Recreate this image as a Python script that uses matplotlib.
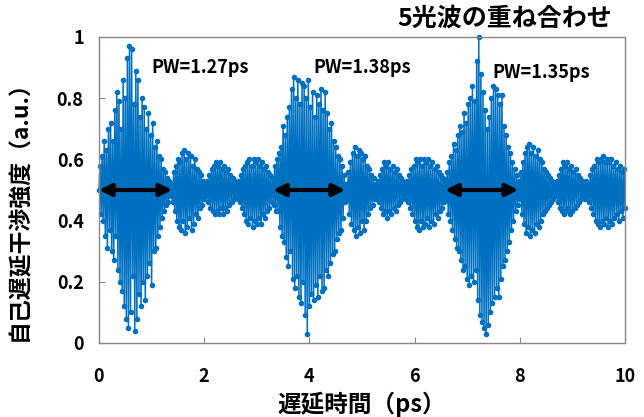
import numpy as np
import matplotlib
matplotlib.use('Agg')
import matplotlib.pyplot as plt

plt.rcParams['font.family'] = ['Noto Sans CJK JP', 'DejaVu Sans']
plt.rcParams['font.weight'] = 'bold'

# self-delay interference signal, sampled every 0.02 ps from 0 to 10 ps
burst1 = [0.50, 0.58, 0.42, 0.61, 0.40, 0.66, 0.35, 0.63, 0.31, 0.70,
          0.37, 0.72, 0.30, 0.66, 0.27, 0.76, 0.35, 0.82, 0.24, 0.79,
          0.20, 0.70, 0.17, 0.86, 0.12, 0.80, 0.08, 0.93, 0.05, 0.97,
          0.10, 0.96, 0.22, 0.78, 0.04, 0.89, 0.08, 0.86, 0.16, 0.74,
          0.12, 0.80, 0.20, 0.77, 0.14, 0.70, 0.22, 0.75, 0.26, 0.68,
          0.19, 0.72, 0.30, 0.64, 0.31, 0.66, 0.35, 0.61, 0.38, 0.60,
          0.41, 0.57, 0.43, 0.56, 0.45, 0.54, 0.46, 0.53, 0.48, 0.52]
gap1 = [0.46, 0.56, 0.43, 0.58, 0.40, 0.60, 0.38, 0.59, 0.37, 0.62,
        0.40, 0.63, 0.36, 0.60, 0.38, 0.62, 0.41, 0.61, 0.37, 0.58,
        0.39, 0.60, 0.42, 0.57, 0.41, 0.56, 0.44, 0.55, 0.45, 0.53,
        0.47, 0.52, 0.48, 0.53, 0.46, 0.55, 0.44, 0.57, 0.43, 0.58,
        0.42, 0.59, 0.43, 0.58, 0.42, 0.59, 0.44, 0.57, 0.42, 0.58,
        0.44, 0.56, 0.43, 0.57, 0.45, 0.55, 0.46, 0.54, 0.47, 0.53,
        0.48, 0.52, 0.47, 0.53, 0.46, 0.55, 0.44, 0.57, 0.42, 0.58,
        0.40, 0.59, 0.39, 0.60, 0.41, 0.58, 0.38, 0.60, 0.40, 0.59,
        0.39, 0.60, 0.41, 0.58, 0.39, 0.59, 0.42, 0.57, 0.41, 0.58,
        0.43, 0.56, 0.44, 0.55, 0.46]
burst2 = [0.54, 0.45, 0.58, 0.43, 0.60, 0.43, 0.62, 0.38, 0.64, 0.35,
          0.71, 0.33, 0.68, 0.28, 0.74, 0.25, 0.77, 0.30, 0.83, 0.21,
          0.87, 0.18, 0.80, 0.22, 0.86, 0.15, 0.78, 0.13, 0.85, 0.20,
          0.84, 0.09, 0.80, 0.03, 0.86, 0.12, 0.77, 0.16, 0.82, 0.14,
          0.74, 0.19, 0.81, 0.15, 0.78, 0.22, 0.83, 0.17, 0.76, 0.18,
          0.82, 0.24, 0.75, 0.22, 0.70, 0.26, 0.72, 0.29, 0.66, 0.30,
          0.64, 0.34, 0.61, 0.36, 0.60, 0.37, 0.58, 0.41, 0.55, 0.46,
          0.52]
gap2 = [0.47, 0.56, 0.42, 0.59, 0.39, 0.62, 0.37, 0.64, 0.35, 0.61,
        0.38, 0.63, 0.36, 0.62, 0.40, 0.60, 0.37, 0.61, 0.40, 0.58,
        0.42, 0.57, 0.44, 0.55, 0.45, 0.54, 0.47, 0.52, 0.48, 0.53,
        0.46, 0.55, 0.44, 0.57, 0.42, 0.59, 0.43, 0.58, 0.41, 0.59,
        0.43, 0.57, 0.42, 0.58, 0.44, 0.56, 0.43, 0.57, 0.45, 0.55,
        0.46, 0.54, 0.47, 0.53, 0.48, 0.52, 0.47, 0.53, 0.46, 0.55,
        0.44, 0.57, 0.42, 0.58, 0.40, 0.60, 0.38, 0.59, 0.37, 0.60,
        0.40, 0.58, 0.38, 0.60, 0.39, 0.59, 0.41, 0.60, 0.38, 0.58,
        0.40, 0.59, 0.39, 0.57, 0.42, 0.58, 0.41, 0.56, 0.43, 0.55,
        0.44, 0.54, 0.46, 0.53]
burst3 = [0.47, 0.56, 0.42, 0.59, 0.40, 0.61, 0.37, 0.65, 0.34, 0.63,
          0.31, 0.68, 0.30, 0.71, 0.27, 0.69, 0.24, 0.75, 0.25, 0.72,
          0.21, 0.78, 0.19, 0.80, 0.22, 0.84, 0.20, 0.79, 0.24, 0.92,
          0.14, 1.00, 0.09, 0.88, 0.07, 0.82, 0.05, 0.76, 0.03, 0.70,
          0.06, 0.74, 0.10, 0.80, 0.13, 0.84, 0.15, 0.83, 0.18, 0.81,
          0.15, 0.78, 0.21, 0.81, 0.25, 0.71, 0.27, 0.68, 0.30, 0.64,
          0.33, 0.62, 0.37, 0.59, 0.40, 0.57, 0.43, 0.55, 0.45, 0.53]
tail = [0.47, 0.56, 0.42, 0.59, 0.39, 0.62, 0.36, 0.64, 0.38, 0.65,
        0.35, 0.62, 0.37, 0.64, 0.36, 0.61, 0.39, 0.63, 0.38, 0.60,
        0.40, 0.59, 0.42, 0.57, 0.43, 0.56, 0.44, 0.55, 0.45, 0.54,
        0.46, 0.53, 0.47, 0.52, 0.48, 0.53, 0.46, 0.55, 0.44, 0.57,
        0.43, 0.59, 0.42, 0.58, 0.43, 0.59, 0.44, 0.57, 0.42, 0.58,
        0.43, 0.56, 0.44, 0.57, 0.45, 0.55, 0.46, 0.54, 0.47, 0.53,
        0.48, 0.52, 0.47, 0.53, 0.48, 0.52, 0.46, 0.55, 0.44, 0.57,
        0.42, 0.58, 0.40, 0.60, 0.39, 0.59, 0.38, 0.60, 0.40, 0.61,
        0.39, 0.59, 0.41, 0.60, 0.38, 0.59, 0.40, 0.60, 0.39, 0.58,
        0.41, 0.59, 0.42, 0.57, 0.40, 0.58, 0.43, 0.56, 0.41, 0.57,
        0.44]

# pulse widths and where the arrows span
pw_labels = ['PW=1.27ps', 'PW=1.38ps', 'PW=1.35ps']
pw_spans = [(0.0, 1.39), (3.31, 4.68), (6.58, 7.97)]
label_pos = [(1.0, 0.90), (4.07, 0.90), (7.47, 0.885)]

signal = np.array(burst1 + gap1 + burst2 + gap2 + burst3 + tail)
delay = np.linspace(0, 10, len(signal))

fig = plt.figure(figsize=(6.44, 4.17), dpi=100)
ax = fig.add_axes([0.1537, 0.1775, 0.8168, 0.7338])

ax.plot(delay, signal, color='#0070C0', lw=1.1, marker='o', ms=3.0,
        clip_on=False, zorder=2)

for (x0, x1) in pw_spans:
    ax.annotate('', xy=(x1, 0.5), xytext=(x0, 0.5),
                arrowprops=dict(arrowstyle='<|-|>', color='black', lw=3,
                                mutation_scale=18, shrinkA=0, shrinkB=0),
                zorder=5)
for txt, (tx, ty) in zip(pw_labels, label_pos):
    ax.text(tx, ty, txt, fontsize=13, fontweight='bold', va='center',
            ha='left', zorder=6)

ax.set_xlim(0, 10)
ax.set_ylim(0, 1)
ax.set_xticks([0, 2, 4, 6, 8, 10])
ax.set_yticks([0, 0.2, 0.4, 0.6, 0.8, 1])
ax.set_yticklabels(['0', '0.2', '0.4', '0.6', '0.8', '1'])
ax.tick_params(direction='in', length=4, color='#888888', labelsize=13)
ax.tick_params(axis='x', pad=17)
ax.tick_params(axis='y', pad=11)
for lab in ax.get_xticklabels() + ax.get_yticklabels():
    lab.set_fontweight('bold')
for sp in ax.spines.values():
    sp.set_color('#888888')
    sp.set_linewidth(1)

ax.set_xlabel('遅延時間（ps）', fontsize=17, fontweight='bold')
ax.xaxis.set_label_coords(0.5, -0.16)
ax.set_ylabel('自己遅延干渉強度（a.u.）', fontsize=16.5, fontweight='bold')
ax.yaxis.set_label_coords(-0.13, 0.45)
ax.text(0.975, 1.02, '5光波の重ね合わせ', transform=ax.transAxes,
        fontsize=18, fontweight='bold', ha='right', va='bottom')

fig.savefig('out.png', dpi=100)
